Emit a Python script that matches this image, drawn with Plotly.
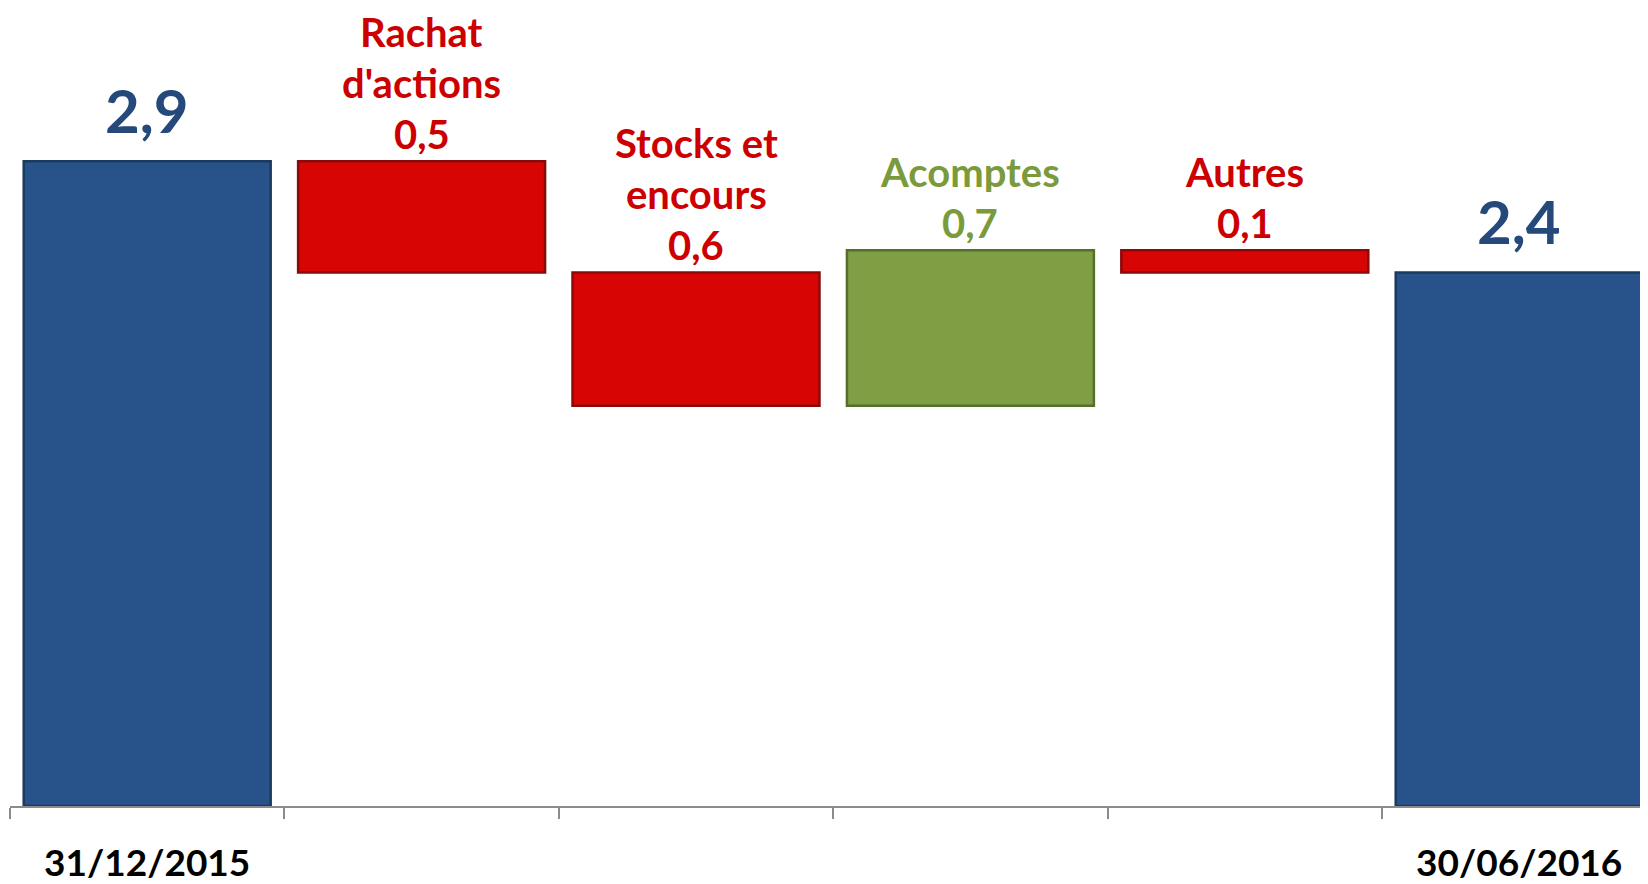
import plotly.graph_objects as go

# ---- data ----
categories = ["31/12/2015", "Rachat d'actions", "Stocks et encours", "Acomptes", "Autres", "30/06/2016"]
measures = ["absolute", "relative", "relative", "relative", "relative", "total"]
values = [2.9, -0.5, -0.6, 0.7, -0.1, 2.4]
value_labels = ["2,9", "0,5", "0,6", "0,7", "0,1", "2,4"]
label_lines = [[], ["Rachat", "d'actions"], ["Stocks et", "encours"], ["Acomptes"], ["Autres"], []]
tick_labels = ["31/12/2015", "", "", "", "", "30/06/2016"]

# ---- style ----
BLUE = "#27528a"
BLUE_EDGE = "#1a3a60"
RED = "#d80505"
RED_EDGE = "#8a0a0a"
GREEN = "#809f45"
GREEN_EDGE = "#55702c"
TXT_BLUE = "#24497a"
TXT_RED = "#cc0000"
TXT_GREEN = "#7a9a3c"
FONT = "Lato"

fig = go.Figure()
fig.add_trace(go.Waterfall(
    x=categories,
    y=values,
    measure=measures,
    connector=dict(visible=False),
    increasing=dict(marker=dict(color=GREEN, line=dict(color=GREEN_EDGE, width=2.5))),
    decreasing=dict(marker=dict(color=RED, line=dict(color=RED_EDGE, width=2.5))),
    totals=dict(marker=dict(color=BLUE, line=dict(color=BLUE_EDGE, width=2.5))),
    hoverinfo="skip",
    showlegend=False,
))

LINE_GAP = 51      # px between stacked label lines
FIRST_GAP = 27     # px from bar top to centre of value line

# annotations above each bar (positions derived from data)
running = 0.0
for i, (cat, m, v) in enumerate(zip(categories, measures, values)):
    if m == "absolute":
        running = v
        top = running
        kind = "total"
    elif m == "total":
        top = running
        kind = "total"
    else:
        prev = running
        running = running + v
        top = max(prev, running)
        kind = "inc" if v > 0 else "dec"
    if kind == "total":
        fig.add_annotation(x=cat, y=top, text="<b>" + value_labels[i] + "</b>",
                           showarrow=False, yanchor="bottom", yshift=13,
                           font=dict(family=FONT, size=60, color=TXT_BLUE))
    else:
        col = TXT_GREEN if kind == "inc" else TXT_RED
        lines = label_lines[i] + [value_labels[i]]
        for j, ln in enumerate(reversed(lines)):
            fig.add_annotation(x=cat, y=top, text="<b>" + ln + "</b>",
                               showarrow=False, yanchor="middle", valign="middle",
                               height=40, borderpad=0,
                               yshift=FIRST_GAP + j * LINE_GAP,
                               font=dict(family=FONT, size=40, color=col))

# page body has an 8px margin; figure is sized to fit the window
CAT_PX = 274.4
LEFT = 2
W, H = 1640, 876
BOTTOM = 72
plot_h = H - BOTTOM
px_per_unit = 224.0

fig.update_layout(
    width=W, height=H,
    margin=dict(l=LEFT, r=0, t=0, b=BOTTOM),
    paper_bgcolor="white", plot_bgcolor="white",
    waterfallgap=0.1,
    xaxis=dict(
        range=[-0.5, -0.5 + (W - LEFT) / CAT_PX],
        tickvals=categories, ticktext=tick_labels,
        tickson="boundaries", ticks="outside", ticklen=11, tickwidth=1.5, tickcolor="#8c8c8c",
        showline=True, linecolor="#8c8c8c", linewidth=1.5,
        showgrid=False, zeroline=False,
        ticklabelstandoff=24,
        tickfont=dict(family=FONT, size=37, color="black", weight="bold"),
        fixedrange=True,
    ),
    yaxis=dict(
        range=[0, plot_h / px_per_unit],
        visible=False, showgrid=False, zeroline=False, fixedrange=True,
    ),
)

fig.write_html("out.html")
